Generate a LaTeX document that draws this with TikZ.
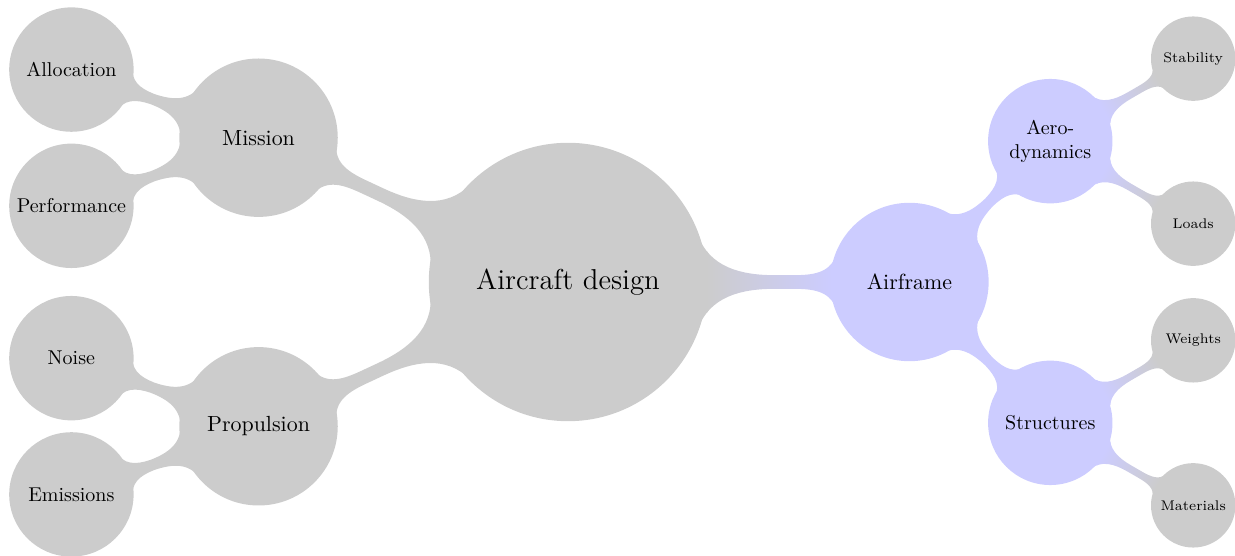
\documentclass[tikz,border=0pt]{standalone}
\usetikzlibrary{mindmap}
\begin{document}
\begin{tikzpicture}[x=0.5pt, y=0.5pt, mindmap, concept color=black!20, text=black,
  lvroot/.style={concept, minimum size=138pt, text width=100pt, inner sep=0pt,
    font=\fontsize{14.4}{18}\selectfont},
  lvone/.style={concept, minimum size=78pt, text width=60pt, inner sep=0pt,
    font=\fontsize{10.95}{13.6}\selectfont},
  lvtwo/.style={concept, minimum size=61pt, text width=56pt, inner sep=0pt,
    font=\fontsize{10}{12}\selectfont},
  lvthree/.style={concept, minimum size=41pt, text width=36pt, inner sep=0pt,
    font=\fontsize{7}{8.5}\selectfont}]
  \useasboundingbox (0,0) rectangle (1235,556);
  \node[lvroot] (root) at (568,274) {Aircraft design}
    child[grow=155, level distance=6cm] {node[lvone] (mission) {Mission}
      child[grow=160, level distance=3.5cm] {node[lvtwo] (alloc) {Allocation}}
      child[grow=200, level distance=3.5cm] {node[lvtwo] (perf) {Performance}}}
    child[grow=205, level distance=6cm] {node[lvone] (prop) {Propulsion}
      child[grow=160, level distance=3.5cm] {node[lvtwo] (noise) {Noise}}
      child[grow=200, level distance=3.5cm] {node[lvtwo] (emis) {Emissions}}}
    child[grow=0, level distance=6cm, concept color=blue!20] {node[lvone] (air) {Airframe}
      child[grow=45, level distance=3.5cm] {node[lvtwo] (aero) {Aero-\\dynamics}
        child[grow=30, level distance=2.9cm, concept color=black!20] {node[lvthree] (stab) {Stability}}
        child[grow=-30, level distance=2.9cm, concept color=black!20] {node[lvthree] (loads) {Loads}}}
      child[grow=-45, level distance=3.5cm] {node[lvtwo] (struct) {Structures}
        child[grow=30, level distance=2.9cm, concept color=black!20] {node[lvthree] (weights) {Weights}}
        child[grow=-30, level distance=2.9cm, concept color=black!20] {node[lvthree] (mat) {Materials}}}};
\end{tikzpicture}
\end{document}
